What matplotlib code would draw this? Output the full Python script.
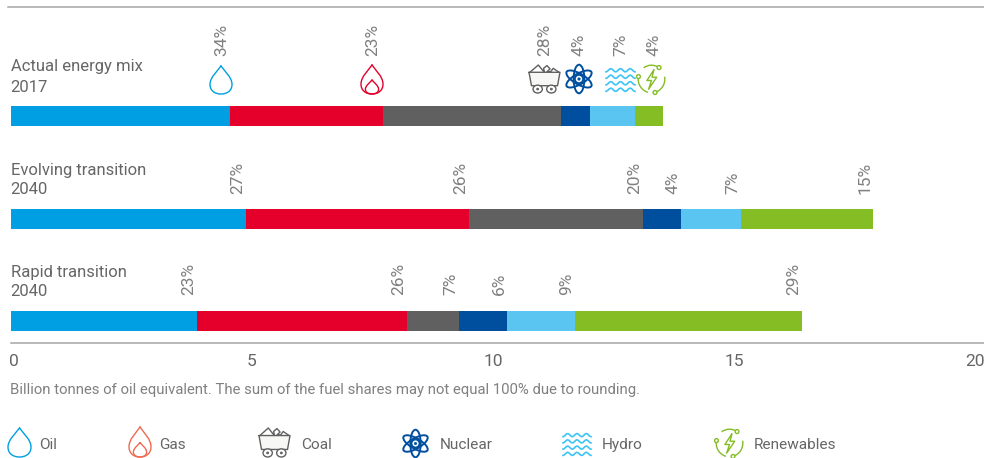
import numpy as np
import matplotlib
matplotlib.use('Agg')
import matplotlib.pyplot as plt
from matplotlib.path import Path
from matplotlib.patches import PathPatch, Circle, Ellipse, Arc
from matplotlib.transforms import Affine2D, ScaledTranslation

plt.rcParams['font.family'] = ['Roboto', 'DejaVu Sans']

# data, billion tonnes of oil equivalent
fuels = ['Oil', 'Gas', 'Coal', 'Nuclear', 'Hydro', 'Renewables']
scenarios = ['Actual energy mix', 'Evolving transition', 'Rapid transition']
years = ['2017', '2040', '2040']
actual = [4.54, 3.17, 3.71, 0.60, 0.93, 0.58]
evolving = [4.88, 4.63, 3.61, 0.79, 1.24, 2.74]
rapid = [3.86, 4.36, 1.08, 1.00, 1.41, 4.71]
actual_pct = ['34%', '23%', '28%', '4%', '7%', '4%']
evolving_pct = ['27%', '26%', '20%', '4%', '7%', '15%']
rapid_pct = ['23%', '26%', '7%', '6%', '9%', '29%']
xticks = [0, 5, 10, 15, 20]

colors = ['#009fe3', '#e4002b', '#606060', '#004f9f', '#5bc5f2', '#84bd24']
txt = '#666666'
W, H = 984, 458
px = 48.2  # pixels per unit on x
py = 102.5  # pixels per row

fig = plt.figure(figsize=(W / 100, H / 100), dpi=100)
ax = fig.add_axes([11 / W, (H - 343) / H, 973 / W, 336 / H])
ax.set_xlim(0, 973 / px)
ax.set_ylim(227 / py, -109 / py)

rows = [actual, evolving, rapid]
labels = [actual_pct, evolving_pct, rapid_pct]
# first row labels get pushed left and up so they sit over the icons
shift = [[8.5, 9.5, 16.5, 11.5, 14.5, 9.5], [8.5] * 6, [8.5] * 6]
lift = [60, 25, 26]

for r, (vals, pcts) in enumerate(zip(rows, labels)):
    left = 0
    for i, v in enumerate(vals):
        ax.barh(r, v, left=left, height=20 / py, color=colors[i], linewidth=0)
        left += v
        ax.text(left - shift[r][i] / px, r - lift[r] / py, pcts[i], rotation=90,
                ha='center', va='bottom', fontsize=12.5, color='#808080')

for s in ['top', 'left', 'right']:
    ax.spines[s].set_visible(False)
ax.spines['bottom'].set_color('#a6a6a6')
ax.spines['bottom'].set_linewidth(1.1)
ax.set_yticks([])
ax.set_xticks(xticks)
ax.tick_params(axis='x', length=0, pad=8, labelsize=12.5, labelcolor=txt)
first = ax.get_xticklabels()[0]
first.set_ha('left')
first.set_transform(first.get_transform() + ScaledTranslation(-2 / 100, 0, fig.dpi_scale_trans))

# overlay in pixel coordinates for texts and icons
ov = fig.add_axes([0, 0, 1, 1], facecolor='none')
ov.set_xlim(0, W)
ov.set_ylim(H, 0)
ov.axis('off')
ov.plot([8, W], [7, 7], color='#a6a6a6', lw=1.1)

for name, year, y in zip(scenarios, years, [67, 170, 272]):
    ov.text(11, y, name, fontsize=12, color=txt, va='center', ha='left')
    ov.text(10, y + 20, year, fontsize=12, color=txt, va='center', ha='left')

ov.text(10, 390, 'Billion tonnes of oil equivalent. The sum of the fuel shares may not equal 100% due to rounding.',
        fontsize=10.7, color='#808080', va='center', ha='left')


def box(x0, y0, w, h):
    return Affine2D().scale(w, h).translate(x0, y0) + ov.transData


def stroke(path, tr, color, lw=1.0, fc='none'):
    ov.add_patch(PathPatch(path, fc=fc, ec=color, lw=lw, transform=tr, capstyle='round', joinstyle='round'))


def drop_path(x, y, w, h):
    # tip at top, round belly
    verts = [(x + w / 2, y), (x + w * 0.68, y + h * 0.2), (x + w, y + h * 0.4), (x + w, y + h * 0.66),
             (x + w, y + h * 0.88), (x + w * 0.78, y + h), (x + w / 2, y + h),
             (x + w * 0.22, y + h), (x, y + h * 0.88), (x, y + h * 0.66),
             (x, y + h * 0.4), (x + w * 0.32, y + h * 0.2), (x + w / 2, y)]
    codes = [Path.MOVETO] + [Path.CURVE4] * 12
    return Path(verts, codes)


def oil_icon(x0, y0, w, h, c):
    stroke(drop_path(0, 0, 1, 1), box(x0, y0, w, h), c)


def gas_icon(x0, y0, w, h, c):
    tr = box(x0, y0, w, h)
    stroke(drop_path(0, 0, 1, 1), tr, c)
    stroke(drop_path(0.2, 0.52, 0.6, 0.48), tr, c)


def coal_icon(x0, y0, w, h, c):
    tr = box(x0, y0, w, h)
    cart = Path([(0, 0.26), (1, 0.26), (0.92, 0.74), (0.08, 0.74), (0, 0.26)])
    stroke(cart, tr, c, fc='#f7f7f5')
    lumps = Path([(0.03, 0.26), (0.3, 0.0), (0.45, 0.2), (0.5, 0.26), (0.47, 0.12), (0.58, 0.02),
                  (0.68, 0.14), (0.58, 0.24), (0.7, 0.24), (0.78, 0.12), (0.97, 0.26)])
    stroke(lumps, tr, c)
    for cx in [0.28, 0.72]:
        ov.add_patch(Ellipse((x0 + cx * w, y0 + 0.86 * h), 0.3 * w, 0.28 * h, fc='white', ec=c, lw=1.0))
        ov.add_patch(Ellipse((x0 + cx * w, y0 + 0.86 * h), 0.07 * w, 0.07 * h, fc=c, ec=c, lw=0.5))


def atom_icon(x0, y0, w, h, c):
    cx, cy = x0 + w / 2, y0 + h / 2
    for ang in [90, 30, 150]:
        ov.add_patch(Ellipse((cx, cy), h * 1.02, w * 0.36, angle=ang, fc='none', ec=c, lw=1.4))
    ov.add_patch(Circle((cx, cy), w * 0.14, fc='white', ec=c, lw=1.4))
    ov.add_patch(Circle((cx, cy), w * 0.04, fc=c, ec=c, lw=0.5))


def hydro_icon(x0, y0, w, h, c):
    xs = np.linspace(0, 1, 60)
    for k in range(4):
        ys = (k + 0.5) / 4 + 0.06 * np.cos(xs * np.pi * 6)
        ov.plot(x0 + xs * w, y0 + ys * h, color=c, lw=1.2)


def renew_icon(x0, y0, w, h, c):
    cx, cy = x0 + w / 2, y0 + h / 2
    # y axis is flipped here, so arc angles run clockwise on screen
    for t1, t2 in [(-125, -62), (105, 185), (-10, 70)]:
        ov.add_patch(Arc((cx, cy), w * 0.92, h * 0.92, theta1=t1, theta2=t2, color=c, lw=1.0))
    for nx, ny in [(0.76, 0.12), (0.05, 0.42), (0.62, 0.95)]:
        ov.add_patch(Ellipse((x0 + nx * w, y0 + ny * h), 0.13 * w, 0.13 * h, fc='white', ec=c, lw=1.0))
    bolt = Path([(0.58, 0.2), (0.34, 0.55), (0.5, 0.55), (0.4, 0.84), (0.68, 0.44), (0.52, 0.44), (0.58, 0.2)])
    stroke(bolt, box(x0, y0, w, h), c)


# icons over the first bar
hydro_c = '#3cc4f4'
oil_icon(210, 66, 22, 28, colors[0])
gas_icon(361, 65, 22, 29, colors[1])
coal_icon(529, 65, 31, 28, colors[2])
atom_icon(564, 65, 30, 28, colors[3])
hydro_icon(606, 67, 29, 26, hydro_c)
renew_icon(637, 64, 29, 30, colors[5])

# legend row
oil_icon(8, 428, 23, 29, colors[0])
gas_icon(129, 427, 22, 30, '#ef6a50')
coal_icon(259, 428, 31, 29, colors[2])
atom_icon(401, 430, 29, 27, colors[3])
hydro_icon(563, 432, 28, 25, hydro_c)
renew_icon(715, 428, 29, 30, colors[5])

for name, x in zip(fuels, [39, 159, 301, 440, 602, 754]):
    ov.text(x, 445, name, fontsize=11.1, color=txt, va='center', ha='left')

fig.savefig('out.png', dpi=100)
